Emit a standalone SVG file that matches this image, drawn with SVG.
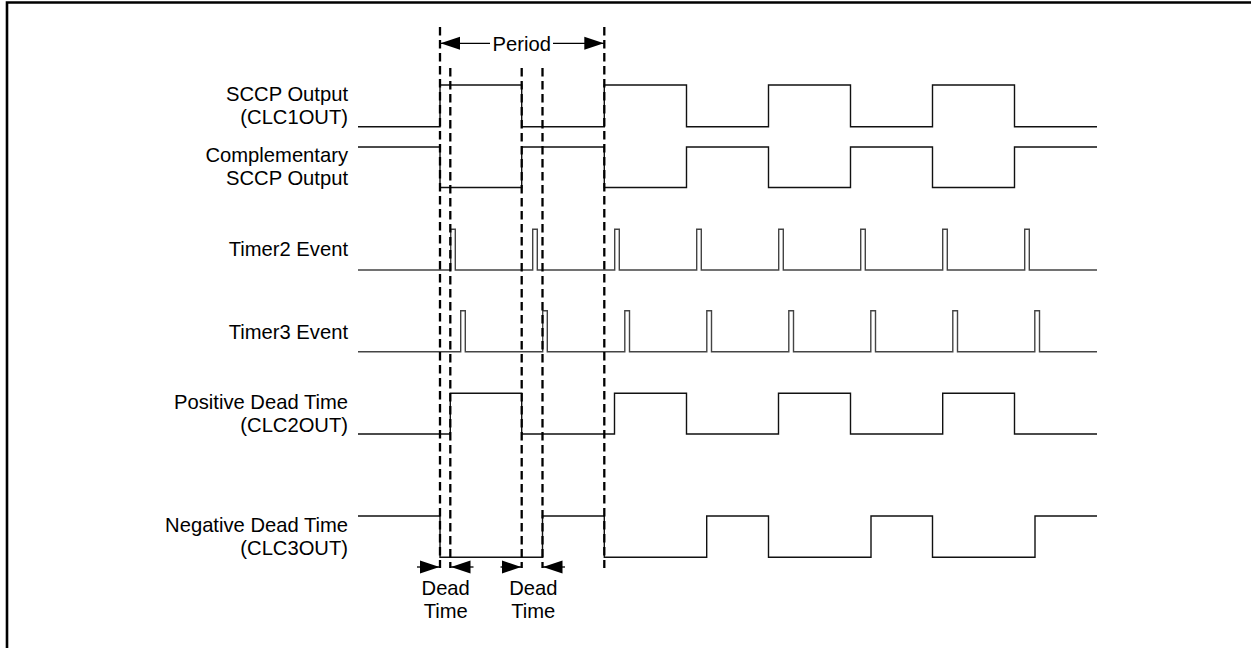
<svg xmlns="http://www.w3.org/2000/svg" width="1251" height="648" viewBox="0 0 1251 648">
<style>
  .lbl { font-family: "Liberation Sans", Arial, sans-serif; font-size: 20.2px; fill: #000; }
  .end { text-anchor: end; }
  .mid { text-anchor: middle; }
  .wave { fill: none; stroke: #111; stroke-width: 1.4; }
  .pulse { fill: none; stroke: #444; stroke-width: 1.4; }
  .dash { stroke: #000; stroke-width: 2.3; stroke-dasharray: 8.5 4.5; fill: none; }
  .arr { stroke: #000; stroke-width: 1.3; fill: none; marker-end: url(#ah); }
</style>
<defs>
  <marker id="ah" markerUnits="userSpaceOnUse" viewBox="0 0 20 14" markerWidth="20" markerHeight="14" refX="19.5" refY="7" orient="auto">
    <path d="M0,0.5 L19.5,7 L0,13.5 Z" fill="#000"/>
  </marker>
</defs>
<rect width="1251" height="648" fill="#fff"/>
<path d="M7,648 V2.5 H1251" fill="none" stroke="#000" stroke-width="2.6"/>

<g id="sccp-output">
  <text class="lbl end" x="348" y="101">SCCP Output</text>
  <text class="lbl end" x="348" y="124">(CLC1OUT)</text>
  <path class="wave" d="M358,126.7 H440 V85 H521.7 V126.7 H604.3 V85 H686.5 V126.7 H768.5 V85 H850.5 V126.7 H932.5 V85 H1014.5 V126.7 H1097"/>
</g>
<g id="complementary-output">
  <text class="lbl end" x="348" y="161.5">Complementary</text>
  <text class="lbl end" x="348" y="185">SCCP Output</text>
  <path class="wave" d="M358,147 H440 V187.5 H521.7 V147 H604.3 V187.5 H686.5 V147 H768.5 V187.5 H850.5 V147 H932.5 V187.5 H1014.5 V147 H1097"/>
</g>
<g id="timer2-event">
  <text class="lbl end" x="348" y="256">Timer2 Event</text>
  <path class="pulse" d="M358,270 H450.7 V229.3 H455.3 V270 H532.7 V229.3 H537.3 V270 H614.7 V229.3 H619.3 V270 H696.7 V229.3 H701.3 V270 H778.7 V229.3 H783.3 V270 H860.7 V229.3 H865.3 V270 H942.7 V229.3 H947.3 V270 H1024.7 V229.3 H1029.3 V270 H1097"/>
</g>
<g id="timer3-event">
  <text class="lbl end" x="348" y="338.5">Timer3 Event</text>
  <path class="pulse" d="M358,351.7 H460.7 V310.7 H465.3 V351.7 H542.7 V310.7 H547.3 V351.7 H624.8 V310.7 H629.5 V351.7 H706.8 V310.7 H711.5 V351.7 H788.8 V310.7 H793.5 V351.7 H870.8 V310.7 H875.5 V351.7 H952.8 V310.7 H957.5 V351.7 H1034.8 V310.7 H1039.5 V351.7 H1097"/>
</g>
<g id="positive-dead-time">
  <text class="lbl end" x="348" y="408.5">Positive Dead Time</text>
  <text class="lbl end" x="348" y="431.5">(CLC2OUT)</text>
  <path class="wave" d="M358,434 H450.3 V393.3 H521.7 V434 H614.5 V393.3 H686.5 V434 H778.5 V393.3 H850.5 V434 H942.7 V393.3 H1014.5 V434 H1097"/>
</g>
<g id="negative-dead-time">
  <text class="lbl end" x="348" y="531.5">Negative Dead Time</text>
  <text class="lbl end" x="348" y="555">(CLC3OUT)</text>
  <path class="wave" d="M358,516 H440 V557.3 H542.5 V516 H604.3 V557.3 H706.7 V516 H768.5 V557.3 H871 V516 H932.5 V557.3 H1035 V516 H1097"/>
</g>

<g id="connectors">
  <line class="dash" x1="440" y1="27" x2="440" y2="568"/>
  <line class="dash" x1="450.3" y1="68" x2="450.3" y2="568"/>
  <line class="dash" x1="521.7" y1="68" x2="521.7" y2="568"/>
  <line class="dash" x1="542.5" y1="68" x2="542.5" y2="568"/>
  <line class="dash" x1="604.3" y1="27" x2="604.3" y2="568"/>
  <line class="arr" x1="490" y1="43.3" x2="440.5" y2="43.3"/>
  <line class="arr" x1="553" y1="43.3" x2="603.8" y2="43.3"/>
  <line class="arr" x1="417" y1="567" x2="439.5" y2="567"/>
  <line class="arr" x1="473.5" y1="567" x2="451" y2="567"/>
  <line class="arr" x1="500.5" y1="567" x2="521.2" y2="567"/>
  <line class="arr" x1="565" y1="567" x2="543" y2="567"/>
</g>

<g id="period-label">
  <text class="lbl" x="492.5" y="50.5">Period</text>
</g>
<g id="dead-time-labels">
  <text class="lbl mid" x="445.7" y="595">Dead</text>
  <text class="lbl mid" x="445.7" y="618.3">Time</text>
  <text class="lbl mid" x="533.3" y="595">Dead</text>
  <text class="lbl mid" x="533.3" y="618.3">Time</text>
</g>
</svg>
